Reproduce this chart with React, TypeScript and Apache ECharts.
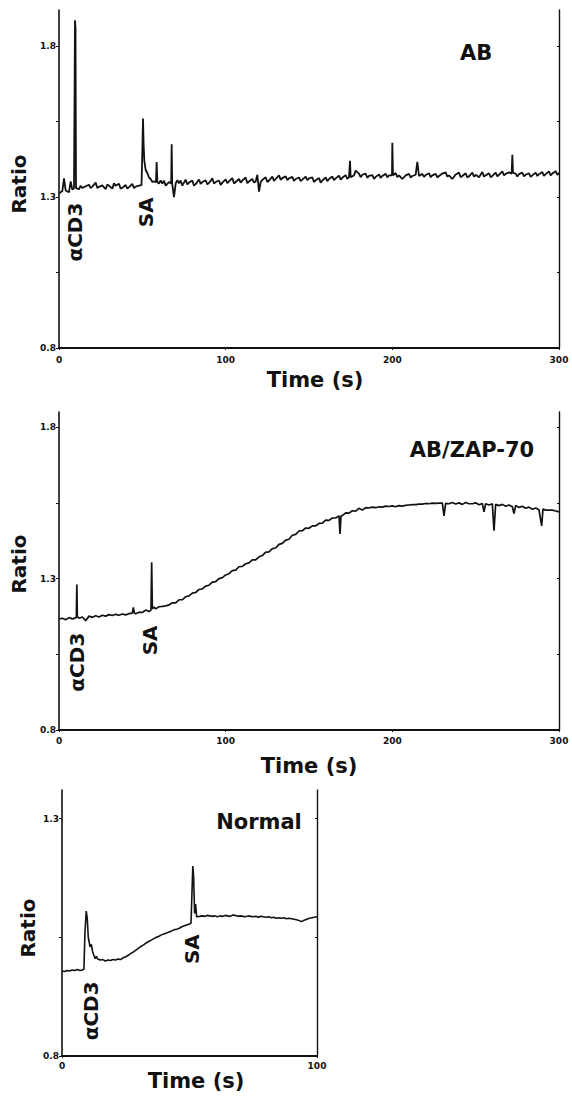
import React, { useEffect, useRef } from "react";
import * as echarts from "echarts";

// ---- data (time s, ratio) ----
const abTrace: number[][] = [
  [0, 1.312], [2, 1.32], [3, 1.362], [4, 1.322], [6, 1.316], [7, 1.352], [8, 1.325], [9, 1.33],
  [9.3, 1.33], [9.6, 1.886], [9.9, 1.86], [10.2, 1.33],
  [12, 1.326], [13, 1.338], [14, 1.33], [16, 1.336], [18, 1.341], [19, 1.33], [20, 1.335], [22, 1.348], [23, 1.33], [24, 1.334], [26, 1.339],
  [28, 1.326], [29, 1.342], [30, 1.338], [32, 1.328], [33, 1.346], [34, 1.338], [36, 1.344], [37, 1.328], [38, 1.331], [40, 1.34], [41, 1.328], [42, 1.333],
  [44, 1.344], [45, 1.33], [46, 1.335], [48, 1.338],
  [49.5, 1.34], [50, 1.45], [50.4, 1.56], [50.8, 1.47], [51.2, 1.42], [52, 1.39], [53, 1.38], [54, 1.365],
  [55, 1.36], [56, 1.35], [57, 1.352], [58.2, 1.35], [58.6, 1.416], [59, 1.35], [60, 1.345], [61, 1.355], [62, 1.345],
  [63, 1.354], [64, 1.338], [66, 1.35], [67.3, 1.345], [67.6, 1.475], [67.9, 1.345], [69, 1.3], [70, 1.345], [71, 1.356], [72, 1.346],
  [73, 1.355], [74, 1.338], [76, 1.358], [77, 1.342], [78, 1.348], [80, 1.355], [81, 1.338], [82, 1.343], [84, 1.358], [85, 1.344], [86, 1.35], [88, 1.356],
  [89, 1.342], [90, 1.347], [92, 1.362], [93, 1.345], [94, 1.35], [96, 1.355], [97, 1.34], [98, 1.348], [100, 1.359], [101, 1.346], [102, 1.352], [104, 1.363],
  [105, 1.345], [106, 1.35], [108, 1.36], [109, 1.348], [110, 1.355], [112, 1.365], [113, 1.346], [114, 1.352], [116, 1.36], [117, 1.348], [118, 1.352], [119, 1.374],
  [120, 1.318], [121, 1.35], [122, 1.357], [124, 1.366], [125, 1.35], [126, 1.355], [128, 1.368], [129, 1.354], [130, 1.36], [132, 1.372], [133, 1.357], [134, 1.363],
  [136, 1.369], [137, 1.356], [138, 1.362], [140, 1.367], [141, 1.354], [142, 1.36], [144, 1.365], [145, 1.353], [146, 1.358], [148, 1.368], [149, 1.356], [150, 1.362],
  [152, 1.365], [153, 1.35], [154, 1.356], [156, 1.363], [157, 1.348], [158, 1.355], [160, 1.365], [161, 1.353], [162, 1.36], [164, 1.368], [165, 1.356], [166, 1.362],
  [168, 1.371], [169, 1.358], [170, 1.364], [172, 1.373], [173, 1.36], [174, 1.366], [174.6, 1.42], [175, 1.366], [177, 1.372], [178, 1.388],
  [180, 1.378], [181, 1.366], [182, 1.374], [184, 1.378], [185, 1.364], [186, 1.37], [188, 1.373], [189, 1.36], [190, 1.367], [192, 1.375], [193, 1.364], [194, 1.37],
  [196, 1.377], [197, 1.365], [198, 1.372], [199.8, 1.372], [200, 1.48], [200.4, 1.372], [202, 1.38], [203, 1.366], [204, 1.372], [206, 1.36],
  [208, 1.372], [210, 1.377], [211, 1.365], [212, 1.37], [214, 1.374], [215, 1.417], [216, 1.37], [218, 1.377], [219, 1.367], [220, 1.373],
  [222, 1.379], [223, 1.366], [224, 1.372], [226, 1.377], [227, 1.365], [228, 1.37], [230, 1.378], [232, 1.382], [233, 1.368], [234, 1.372], [236, 1.36],
  [238, 1.375], [240, 1.381], [241, 1.366], [242, 1.37], [244, 1.379], [245, 1.365], [246, 1.369], [248, 1.381], [249, 1.368], [250, 1.374], [252, 1.366],
  [254, 1.383], [255, 1.368], [256, 1.372], [258, 1.379], [259, 1.366], [260, 1.37], [262, 1.381], [263, 1.369], [264, 1.374], [266, 1.385], [267, 1.372], [268, 1.377],
  [270, 1.382], [271.6, 1.378], [272, 1.44], [272.4, 1.38], [274, 1.378], [275, 1.368], [276, 1.376], [278, 1.381], [279, 1.369], [280, 1.374],
  [282, 1.379], [283, 1.367], [284, 1.372], [286, 1.381], [287, 1.37], [288, 1.376], [290, 1.383], [291, 1.37], [292, 1.376], [294, 1.385], [295, 1.372], [296, 1.378],
  [298, 1.386], [299, 1.374], [300, 1.38],
];

const zapTrace: number[][] = [
  [0, 1.167], [2, 1.169], [4, 1.164], [6, 1.171], [8, 1.167], [10, 1.17], [10.4, 1.172], [10.7, 1.28], [11, 1.175],
  [12, 1.169], [14, 1.173], [16, 1.161], [18, 1.176], [20, 1.172], [22, 1.177], [24, 1.173], [26, 1.179],
  [28, 1.176], [30, 1.181], [32, 1.178], [34, 1.182], [36, 1.179], [38, 1.183], [40, 1.18], [42, 1.184],
  [44, 1.186], [44.6, 1.205], [45.2, 1.186], [46, 1.184], [48, 1.189], [50, 1.188], [52, 1.196], [54, 1.191],
  [55.2, 1.196], [55.6, 1.354], [56, 1.2], [57, 1.206], [58, 1.2], [60, 1.207], [62, 1.208], [64, 1.21],
  [66, 1.213], [68, 1.22], [70, 1.22], [72, 1.23], [74, 1.23], [76, 1.24], [78, 1.243], [80, 1.252],
  [82, 1.254], [84, 1.264], [86, 1.266], [88, 1.275], [90, 1.278], [92, 1.288], [94, 1.29], [96, 1.3],
  [98, 1.303], [100, 1.312], [102, 1.316], [104, 1.326], [106, 1.328], [108, 1.339], [110, 1.34], [112, 1.349],
  [114, 1.352], [116, 1.362], [118, 1.362], [120, 1.372], [122, 1.376], [124, 1.387], [126, 1.388], [128, 1.399],
  [130, 1.401], [132, 1.413], [134, 1.416], [136, 1.427], [138, 1.43], [140, 1.443], [142, 1.446], [144, 1.457],
  [146, 1.458], [148, 1.467], [150, 1.466], [152, 1.474], [154, 1.474], [156, 1.482], [158, 1.483], [160, 1.493],
  [162, 1.492], [164, 1.5], [166, 1.5], [168, 1.507], [168.6, 1.447], [169.2, 1.507], [170, 1.508],
  [172, 1.517], [174, 1.516], [176, 1.524], [178, 1.523], [180, 1.532], [182, 1.526], [184, 1.534], [186, 1.533],
  [188, 1.536], [190, 1.534], [192, 1.537], [194, 1.536], [196, 1.539], [198, 1.538], [200, 1.54], [202, 1.537],
  [204, 1.541], [206, 1.539], [208, 1.542], [210, 1.543], [212, 1.544], [214, 1.544], [216, 1.546], [218, 1.546],
  [220, 1.548], [222, 1.547], [224, 1.549], [226, 1.548], [228, 1.549], [230, 1.549], [231, 1.507], [232, 1.548],
  [234, 1.547], [236, 1.551], [238, 1.546], [240, 1.55], [242, 1.545], [244, 1.551], [246, 1.547], [248, 1.547],
  [250, 1.55], [252, 1.544], [254, 1.548], [255, 1.52], [256, 1.547], [258, 1.543], [260, 1.547], [261, 1.458],
  [262, 1.545], [264, 1.541], [266, 1.545], [268, 1.539], [270, 1.543], [272, 1.537], [273, 1.515], [274, 1.541],
  [276, 1.535], [278, 1.539], [280, 1.532], [282, 1.536], [284, 1.529], [286, 1.533], [288, 1.527],
  [289.6, 1.474], [290.4, 1.53], [292, 1.526], [294, 1.526], [296, 1.526], [298, 1.523], [300, 1.52],
];

const normalTrace: number[][] = [
  [0, 0.979], [1, 0.978], [2, 0.98], [3, 0.979], [4, 0.981], [5, 0.98], [6, 0.982], [7, 0.98], [8, 0.981],
  [8.6, 0.983], [9, 1.06], [9.5, 1.105], [9.9, 1.09], [10.3, 1.05], [11, 1.03], [11.5, 1.035], [12, 1.02],
  [12.5, 1.012], [13, 1.005], [13.5, 1.01], [14, 1.004], [15, 1.002], [16, 1.003], [17, 1.0], [18, 1.002],
  [19, 1.001], [20, 1.003], [21, 1.002], [22, 1.004], [23, 1.003], [24, 1.007], [25, 1.009], [26, 1.012],
  [27, 1.016], [28, 1.019], [29, 1.023], [30, 1.027], [31, 1.031], [32, 1.034], [33, 1.038], [34, 1.041],
  [35, 1.044], [36, 1.047], [37, 1.05], [38, 1.052], [39, 1.055], [40, 1.057], [41, 1.059], [42, 1.061],
  [43, 1.063], [44, 1.066], [45, 1.067], [46, 1.069], [47, 1.072], [48, 1.074], [49, 1.076], [50, 1.078],
  [50.6, 1.08], [51, 1.15], [51.3, 1.2], [51.6, 1.18], [52, 1.1], [52.4, 1.12], [52.8, 1.093], [54, 1.094],
  [55, 1.095], [56, 1.094], [57, 1.096], [58, 1.095], [59, 1.094], [60, 1.095], [61, 1.093], [62, 1.095],
  [63, 1.094], [64, 1.096], [65, 1.095], [66, 1.094], [67, 1.097], [68, 1.096], [69, 1.094], [70, 1.095],
  [71, 1.094], [72, 1.093], [73, 1.095], [74, 1.094], [75, 1.093], [76, 1.094], [77, 1.092], [78, 1.094],
  [79, 1.093], [80, 1.092], [81, 1.093], [82, 1.091], [83, 1.092], [84, 1.09], [85, 1.091], [86, 1.09],
  [87, 1.091], [88, 1.089], [89, 1.09], [90, 1.089], [91, 1.088], [92, 1.087], [93, 1.085], [94, 1.083],
  [95, 1.086], [96, 1.088], [97, 1.09], [98, 1.091], [99, 1.092], [100, 1.093],
];

const panelTitles = ["AB", "AB/ZAP-70", "Normal"];
const yLabelValues = [[0.8, 1.3, 1.8], [0.8, 1.3, 1.8], [0.8, 1.3]];
const yTickValues = [[0.8, 1.05, 1.3, 1.55, 1.8], [0.8, 1.05, 1.3, 1.55, 1.8], [0.8, 1.05, 1.3]];
const yMax = [1.92, 1.85, 1.36];
const xMax = [300, 300, 100];
// stimulus annotations: [panel, label, time, ratio-position]
const annotations: [number, string, number, number][] = [
  [0, "αCD3", 9.6, 1.184], [0, "SA", 52.2, 1.25],
  [1, "αCD3", 10.5, 1.024], [1, "SA", 54.6, 1.096],
  [2, "αCD3", 11.4, 0.895], [2, "SA", 51, 1.025],
];

const FONT = "DejaVu Sans";
const INK = "#111";

export default function App() {
  const ref = useRef<HTMLDivElement>(null);
  useEffect(() => {
    document.body.style.margin = "0";
    if (!ref.current) return;
    const chart = echarts.init(ref.current, undefined, { renderer: "svg" });
    const grids = [
      { left: 59, top: 10, width: 500, height: 338 },
      { left: 59, top: 412, width: 500, height: 318 },
      { left: 62, top: 790, width: 255, height: 266 },
    ];
    const xNameGap = [21, 25, 3];
    const xNamePad = [12, 0, 13];
    const yNamePad = [[0, 10, 0, 0], [0, 0, 0, 14], [0, 10, 0, 0]];
    const traces = [abTrace, zapTrace, normalTrace];
    const labelMargin = [7, 6, 5];
    const traceWidth = [1.8, 1.7, 1.6];

    const xAxis = grids.map((_, i) => ({
      type: "value",
      gridIndex: i,
      min: 0,
      max: xMax[i],
      interval: 100,
      name: "Time (s)",
      nameLocation: "middle",
      nameGap: xNameGap[i],
      nameTextStyle: {
        fontFamily: FONT, fontWeight: "bold", fontSize: 21, color: INK,
        padding: [0, 0, 0, xNamePad[i]],
      },
      axisLine: { show: true, onZero: false, lineStyle: { color: INK, width: 1.8 } },
      axisTick: { show: true, length: 2, lineStyle: { color: INK } },
      axisLabel: { fontFamily: FONT, fontWeight: "bold", fontSize: 9, color: INK, margin: labelMargin[i] },
      splitLine: { show: false },
    }));

    const yAxis: any[] = [];
    grids.forEach((_, i) => {
      yAxis.push({
        type: "value",
        gridIndex: i,
        position: "left",
        min: 0.8,
        max: yMax[i],
        name: "Ratio",
        nameLocation: "middle",
        nameGap: 24,
        nameTextStyle: {
          fontFamily: FONT, fontWeight: "bold", fontSize: 20, color: INK,
          padding: yNamePad[i],
        },
        axisLine: { show: true, onZero: false, lineStyle: { color: INK, width: 1.6 } },
        axisTick: { show: true, length: 3, customValues: yTickValues[i], lineStyle: { color: INK } },
        axisLabel: {
          fontFamily: FONT, fontWeight: "bold", fontSize: 9, color: INK, margin: 3,
          customValues: yLabelValues[i],
          formatter: (v: number) => v.toFixed(1),
        },
        splitLine: { show: false },
      });
      yAxis.push({
        type: "value",
        gridIndex: i,
        position: "right",
        min: 0.8,
        max: yMax[i],
        axisLine: { show: true, onZero: false, lineStyle: { color: INK, width: 1.4 } },
        axisTick: { show: true, inside: true, length: 2, customValues: yTickValues[i], lineStyle: { color: INK } },
        axisLabel: { show: false },
        splitLine: { show: false },
      });
    });

    const series = traces.map((d, i) => ({
      type: "line",
      xAxisIndex: i,
      yAxisIndex: i * 2,
      data: d,
      symbol: "none",
      showSymbol: false,
      lineStyle: { color: INK, width: traceWidth[i] },
    }));

    chart.setOption({
      animation: false,
      backgroundColor: "#fff",
      grid: grids,
      xAxis,
      yAxis,
      series,
    });

    const titlePos = [[476, 53], [472, 450], [259, 822]];
    const graphic: any[] = panelTitles.map((t, i) => ({
      type: "text",
      x: titlePos[i][0],
      y: titlePos[i][1],
      style: {
        text: t, fontFamily: FONT, fontWeight: "bold", fontSize: 21, fill: INK,
        textAlign: "center", textVerticalAlign: "middle",
      },
    }));
    annotations.forEach(([p, label, t, v]) => {
      const pt = chart.convertToPixel({ xAxisIndex: p, yAxisIndex: p * 2 }, [t, v]) as number[];
      graphic.push({
        type: "text",
        x: pt[0],
        y: pt[1],
        rotation: Math.PI / 2,
        style: {
          text: label, fontFamily: FONT, fontWeight: "bold", fontSize: 20, fill: INK,
          textAlign: "center", textVerticalAlign: "middle",
        },
      });
    });
    chart.setOption({ graphic });

    return () => chart.dispose();
  }, []);
  return <div ref={ref} style={{ width: 572, height: 1096 }} />;
}
